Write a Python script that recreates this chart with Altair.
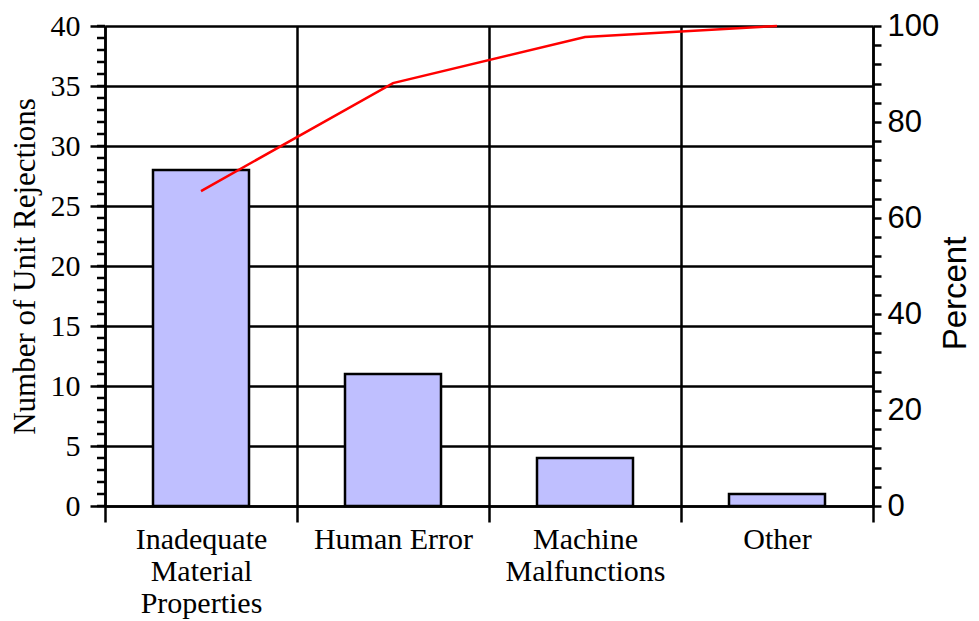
import altair as alt
import pandas as pd

categories = ["Inadequate Material Properties", "Human Error", "Machine Malfunctions", "Other"]
label_lines = [["Inadequate", "Material", "Properties"], ["Human Error"], ["Machine", "Malfunctions"], ["Other"]]
counts = [28, 11, 4, 1]
cum_percent = [65.6, 88.1, 97.7, 100]
count_major = [0, 5, 10, 15, 20, 25, 30, 35, 40]
count_minor = list(range(0, 41))
percent_ticks = list(range(0, 101, 4))

df = pd.DataFrame({"cause": categories, "count": counts, "pct": cum_percent})
minor_df = pd.DataFrame({"count": count_minor})

parts = []
for c, lines in zip(categories, label_lines):
    arr = "[" + ", ".join("'" + s + "'" for s in lines) + "]"
    parts.append(f"datum.label == '{c}' ? {arr} : ")
label_expr = "".join(parts) + "datum.label"

LW = 2.5

x_enc = alt.X(
    "cause:N",
    sort=categories,
    scale=alt.Scale(paddingInner=0, paddingOuter=0),
    axis=alt.Axis(
        title=None, tickBand="extent", grid=True, gridColor="black", gridWidth=LW, gridOpacity=1,
        domain=True, domainColor="black", domainWidth=LW,
        ticks=True, tickSize=16, tickWidth=LW, tickColor="black",
        labelAngle=0, labelFont="Liberation Serif", labelFontSize=30, labelColor="black",
        labelPadding=2, labelLineHeight=32, labelBaseline="top", labelExpr=label_expr,
        labelOverlap=False,
    ),
)

left_axis = alt.Axis(
    title="Number of Unit Rejections", values=count_major, grid=True,
    gridColor="black", gridWidth=LW, gridOpacity=1,
    domain=True, domainColor="black", domainWidth=LW,
    tickSize=15, tickWidth=LW, tickColor="black",
    labelFont="Liberation Serif", labelFontSize=30, labelColor="black", labelPadding=10,
    titleFont="Liberation Serif", titleFontSize=31, titleFontWeight="normal", titleColor="black",
    titleX=-80, titleY=240, titleAlign="center", titleBaseline="middle", titleAngle=270,
)

y_scale = alt.Scale(domain=[0, 40], nice=False)

bars = alt.Chart(df).mark_bar(
    width=alt.RelativeBandSize(0.5), color="#BFBFFF", stroke="black", strokeWidth=LW
).encode(
    x=x_enc,
    y=alt.Y("count:Q", scale=y_scale, axis=left_axis),
)

minor = alt.Chart(minor_df).mark_rule(color="black", strokeWidth=LW).encode(
    y=alt.Y("count:Q", scale=y_scale, axis=left_axis),
    x=alt.value(-8),
    x2=alt.value(0),
)

line = alt.Chart(df).mark_line(color="#FF0000", strokeWidth=2.5).encode(
    x=alt.X("cause:N", sort=categories),
    y=alt.Y(
        "pct:Q",
        scale=alt.Scale(domain=[0, 100], nice=False),
        axis=alt.Axis(
            orient="right", title="Percent", values=percent_ticks, grid=False,
            labelExpr="datum.value % 20 == 0 ? datum.label : ''", labelOverlap=False,
            domain=True, domainColor="black", domainWidth=LW,
            tickSize=8, tickWidth=LW, tickColor="black",
            labelFont="Liberation Sans", labelFontSize=31, labelColor="black", labelPadding=6,
            titleFont="Liberation Sans", titleFontSize=33, titleFontWeight="normal", titleColor="black",
            titleX=82, titleY=267, titleAlign="center", titleBaseline="middle", titleAngle=270,
        ),
    ),
)

chart = alt.layer(alt.layer(bars, minor), line).resolve_scale(y="independent").properties(
    width=768,
    height=480,
    autosize=alt.AutoSizeParams(type="none"),
    padding={"left": 97, "top": 18, "right": 98, "bottom": 113},
).configure_view(strokeWidth=0).configure(background="white")

chart.save("out.html", embed_options={"renderer": "svg", "actions": False})
